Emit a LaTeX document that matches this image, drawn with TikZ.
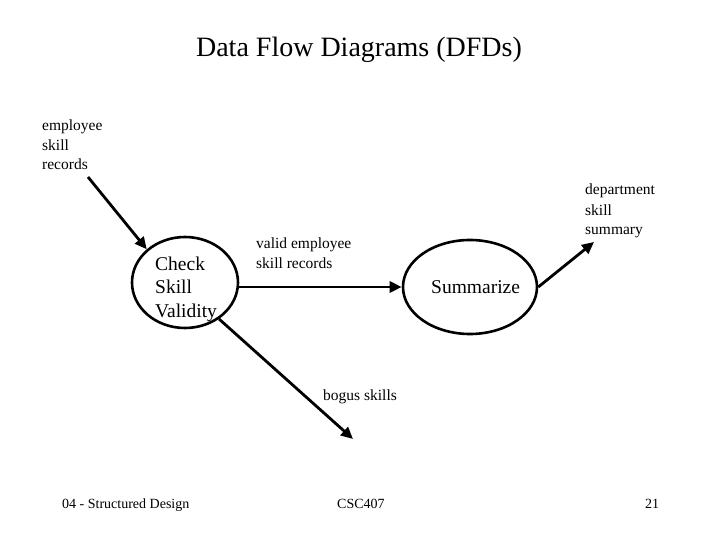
\documentclass[tikz,border=0pt]{standalone}
\usepackage{fontspec}
\setmainfont{Liberation Serif}
\usetikzlibrary{arrows.meta,shapes.geometric}
\tikzset{
  proc/.style={draw, ellipse, line width=2.6pt, inner sep=0pt},
  flow/.style={line width=2.8pt, -{Triangle[length=12pt,width=11pt]}},
  lbl/.style={anchor=base west, inner sep=0pt, font=\fontsize{15.5}{20}\selectfont},
  big/.style={anchor=base west, inner sep=0pt, font=\fontsize{19.5}{24}\selectfont},
  foot/.style={anchor=base west, inner sep=0pt, font=\fontsize{14}{17}\selectfont},
}
\begin{document}
\begin{tikzpicture}[x=1pt,y=-1pt]
\useasboundingbox (0,0) rectangle (720,540);
% title
\node[anchor=base, inner sep=0pt, font=\fontsize{28}{34}\selectfont] (title) at (359,57) {Data Flow Diagrams (DFDs)};
% processes
\node[proc, minimum width=106pt, minimum height=91pt] (csv) at (185,282.5) {};
\node[proc, minimum width=134pt, minimum height=94pt] (sum) at (470,287) {};
% process texts
\node[big] (c1) at (155,270) {Check};
\node[big] (c2) at (155,293.5) {Skill};
\node[big] (c3) at (155,317) {Validity};
\node[big] (s1) at (431,293) {Summarize};
% flow labels
\node[lbl] (e1) at (42,131) {employee};
\node[lbl] (e2) at (42,151) {skill};
\node[lbl] (e3) at (42,170) {records};
\node[lbl] (v1) at (256,248) {valid employee};
\node[lbl] (v2) at (256,268) {skill records};
\node[lbl] (d1) at (585,195) {department};
\node[lbl] (d2) at (585,215) {skill};
\node[lbl] (d3) at (585,235) {summary};
\node[lbl] (b1) at (323,400) {bogus skills};
% connector free ends
\coordinate (in) at (88,177);
\coordinate (out) at (594,242);
\coordinate (bog) at (353,439);
% flows
\draw[flow] (in) -- (csv.139);
\draw[flow] (sum.west -| csv.east) -- (sum.west);
\draw[flow] (sum.east) -- (out);
\draw[flow] (csv.-47) -- (bog);
% footer
\node[foot] (f1) at (62,508) {04 - Structured Design};
\node[foot] (f2) at (337,508) {CSC407};
\node[foot] (f3) at (645,508) {21};
\end{tikzpicture}
\end{document}
